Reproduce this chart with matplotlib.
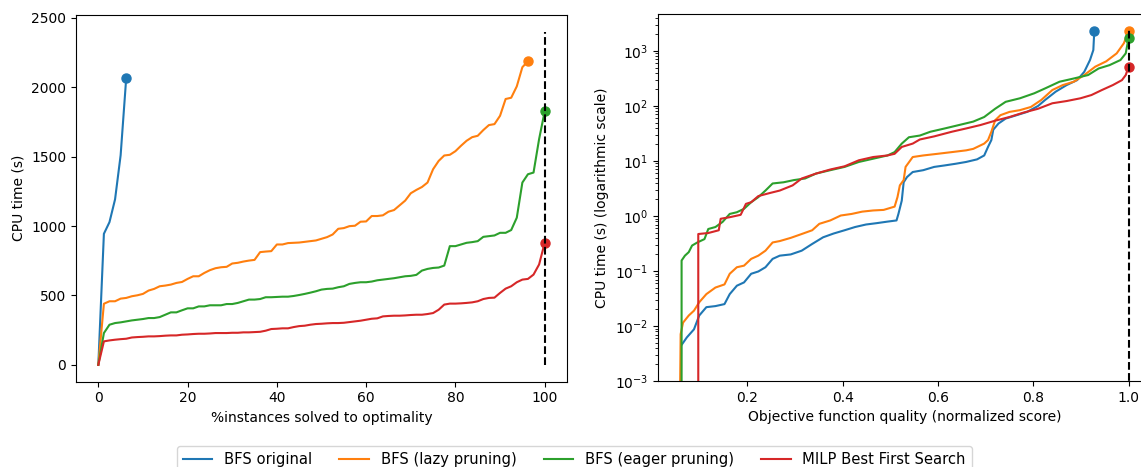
import numpy as np
import matplotlib
matplotlib.use("Agg")
import matplotlib.pyplot as plt

labels = ["BFS original", "BFS (lazy pruning)", "BFS (eager pruning)", "MILP Best First Search"]
colors = ["tab:blue", "tab:orange", "tab:green", "tab:red"]

# --- left: CPU time vs % instances solved (80 instances, step 1.25 %)
step = 1.25
solved_blue = [0, 944, 1028, 1192, 1510, 2066]
solved_orange = [0, 440, 458, 458, 477, 482, 494, 501, 511, 535, 547, 566, 571, 578, 590, 597,
                 619, 638, 638, 662, 682, 696, 703, 706, 730, 735, 744, 751, 756, 812, 816, 819,
                 867, 867, 877, 879, 881, 886, 891, 896, 908, 920, 939, 980, 985, 999, 1002, 1031,
                 1033, 1072, 1072, 1077, 1103, 1115, 1149, 1183, 1236, 1260, 1281, 1313, 1409,
                 1469, 1508, 1513, 1539, 1578, 1614, 1640, 1650, 1691, 1727, 1734, 1794, 1915,
                 1924, 2006, 2144, 2187]
solved_green = [0, 229, 289, 301, 306, 313, 320, 325, 330, 337, 337, 344, 361, 378, 378, 393,
                407, 407, 421, 421, 429, 429, 429, 438, 438, 446, 458, 470, 470, 474, 487, 487,
                489, 491, 491, 496, 503, 511, 520, 530, 542, 547, 549, 559, 566, 583, 590, 595,
                595, 600, 609, 614, 619, 624, 631, 638, 641, 648, 679, 691, 698, 701, 715, 855,
                855, 867, 879, 884, 891, 922, 927, 932, 951, 951, 971, 1060, 1313, 1373, 1385,
                1626, 1826]
solved_red = [0, 169, 176, 181, 185, 188, 197, 200, 202, 205, 205, 207, 210, 212, 212, 217,
              219, 222, 224, 224, 226, 229, 229, 229, 231, 231, 234, 234, 236, 238, 246, 258,
              260, 263, 263, 272, 279, 282, 289, 294, 296, 299, 301, 301, 303, 308, 313, 318,
              325, 332, 335, 349, 352, 354, 354, 356, 359, 361, 361, 366, 373, 397, 434, 441,
              441, 443, 446, 450, 458, 474, 482, 484, 518, 549, 566, 595, 614, 619, 650, 723,
              879]

# --- right: CPU time vs objective quality (log scale)
q_blue = [0.060, 0.061, 0.073, 0.088, 0.099, 0.114, 0.133, 0.152, 0.163, 0.178, 0.193, 0.208,
          0.223, 0.238, 0.253, 0.268, 0.291, 0.314, 0.336, 0.359, 0.381, 0.404, 0.426, 0.449,
          0.471, 0.494, 0.513, 0.517, 0.524, 0.528, 0.535, 0.547, 0.569, 0.592, 0.614, 0.637,
          0.659, 0.682, 0.697, 0.705, 0.712, 0.716, 0.727, 0.742, 0.765, 0.787, 0.810, 0.825,
          0.847, 0.870, 0.892, 0.907, 0.919, 0.926, 0.928]
t_blue = [1e-4, 0.0044, 0.0062, 0.0087, 0.0155, 0.022, 0.023, 0.025, 0.038, 0.054, 0.062, 0.089,
          0.098, 0.117, 0.166, 0.19, 0.20, 0.234, 0.31, 0.41, 0.48, 0.55, 0.63, 0.70,
          0.74, 0.79, 0.83, 1.09, 1.9, 4.1, 5.1, 6.3, 6.8, 7.8, 8.3, 8.9,
          9.6, 10.7, 12.6, 18, 24, 37, 48, 59, 68, 78, 100, 129,
          182, 240, 295, 418, 685, 1040, 2300]
q_orange = [0.058, 0.060, 0.065, 0.077, 0.088, 0.099, 0.114, 0.133, 0.152, 0.163, 0.178, 0.193,
            0.208, 0.223, 0.238, 0.253, 0.268, 0.291, 0.314, 0.336, 0.351, 0.374, 0.396, 0.419,
            0.441, 0.464, 0.486, 0.509, 0.515, 0.520, 0.528, 0.532, 0.547, 0.569, 0.599, 0.629,
            0.659, 0.674, 0.697, 0.705, 0.712, 0.720, 0.731, 0.750, 0.772, 0.795, 0.817, 0.840,
            0.862, 0.885, 0.907, 0.930, 0.953, 0.975, 0.990, 1.0]
t_orange = [1e-4, 0.0071, 0.0115, 0.0155, 0.019, 0.027, 0.038, 0.050, 0.057, 0.089, 0.117, 0.125,
            0.166, 0.19, 0.234, 0.33, 0.35, 0.40, 0.47, 0.55, 0.72, 0.83, 1.02, 1.09,
            1.2, 1.26, 1.29, 1.48, 2.2, 3.6, 4.5, 7.8, 11.8, 12.6, 13.5, 14.5,
            15.6, 16.6, 20.7, 24, 34, 55, 68, 78, 84, 96, 129, 195,
            240, 276, 365, 518, 648, 905, 1380, 2300]
q_green = [0.062, 0.062, 0.069, 0.077, 0.084, 0.095, 0.110, 0.118, 0.133, 0.148, 0.163, 0.178,
           0.193, 0.208, 0.223, 0.238, 0.253, 0.276, 0.298, 0.321, 0.344, 0.374, 0.404, 0.434,
           0.464, 0.494, 0.509, 0.524, 0.539, 0.562, 0.584, 0.614, 0.644, 0.674, 0.697, 0.720,
           0.742, 0.772, 0.802, 0.825, 0.855, 0.885, 0.915, 0.937, 0.960, 0.983, 0.994, 1.0]
t_green = [1e-4, 0.155, 0.19, 0.22, 0.29, 0.33, 0.38, 0.58, 0.63, 0.78, 1.09, 1.17,
           1.35, 1.78, 2.2, 2.9, 3.9, 4.1, 4.5, 4.8, 5.9, 6.8, 7.8, 9.6,
           11.0, 12.6, 14.5, 20.7, 27, 29, 34, 39, 45, 52, 63, 89,
           119, 138, 170, 209, 276, 316, 365, 480, 553, 685, 905, 1740]
q_red = [0.097, 0.097, 0.118, 0.140, 0.144, 0.163, 0.186, 0.197, 0.208, 0.223, 0.246, 0.268,
         0.295, 0.314, 0.344, 0.374, 0.404, 0.434, 0.464, 0.494, 0.509, 0.524, 0.547, 0.562,
         0.592, 0.629, 0.659, 0.689, 0.720, 0.750, 0.780, 0.810, 0.840, 0.870, 0.899, 0.922,
         0.944, 0.967, 0.986, 0.994, 1.0]
t_red = [1e-4, 0.47, 0.49, 0.55, 0.89, 0.95, 1.05, 1.66, 1.78, 2.3, 2.6, 2.9,
         3.6, 4.8, 5.9, 7.0, 8.0, 10.3, 11.8, 12.6, 13.5, 18, 20.7, 24.6,
         28, 34, 39, 45, 54, 63, 76, 89, 112, 123, 138, 158,
         195, 240, 295, 365, 520]

fig = plt.figure(figsize=(11.41, 4.67), dpi=100)
W, H = 1141, 467
ax1 = fig.add_axes([76 / W, 1 - 381.5 / H, (567 - 76) / W, (381.5 - 15) / H])
ax2 = fig.add_axes([658 / W, 1 - 381 / H, (1151 - 658) / W, (381 - 14) / H])

left_data = [solved_blue, solved_orange, solved_green, solved_red]
for ys, c, lab in zip(left_data, colors, labels):
    xs = np.arange(len(ys)) * step
    ax1.plot(xs, ys, color=c, label=lab)
    ax1.plot(xs[-1], ys[-1], "o", color=c, markersize=6.5)
ax1.plot([100, 100], [0, 2400], "k--")
ax1.set_xlabel("%instances solved to optimality")
ax1.set_ylabel("CPU time (s)")

right_data = [(q_blue, t_blue), (q_orange, t_orange), (q_green, t_green), (q_red, t_red)]
for (xs, ys), c in zip(right_data, colors):
    ax2.plot(xs, ys, color=c)
    ax2.plot(xs[-1], ys[-1], "o", color=c, markersize=6.5)
ax2.plot([1.0, 1.0], [1e-4, 2400], "k--")
ax2.set_yscale("log")
ax2.set_ylim(1e-3, 4700)
ax2.set_xlim(0.0125, 1.047)
ax2.set_xticks([0.2, 0.4, 0.6, 0.8, 1.0])
ax2.set_xlabel("Objective function quality (normalized score)")
ax2.set_ylabel("CPU time (s) (logarithmic scale)")

handles, labs = ax1.get_legend_handles_labels()
fig.legend(handles, labs, loc="upper left", ncol=4, bbox_to_anchor=(177 / W, 1 - 446 / H),
           borderaxespad=0, fontsize=10.6, columnspacing=1.85)

fig.savefig("out.png", dpi=100)
